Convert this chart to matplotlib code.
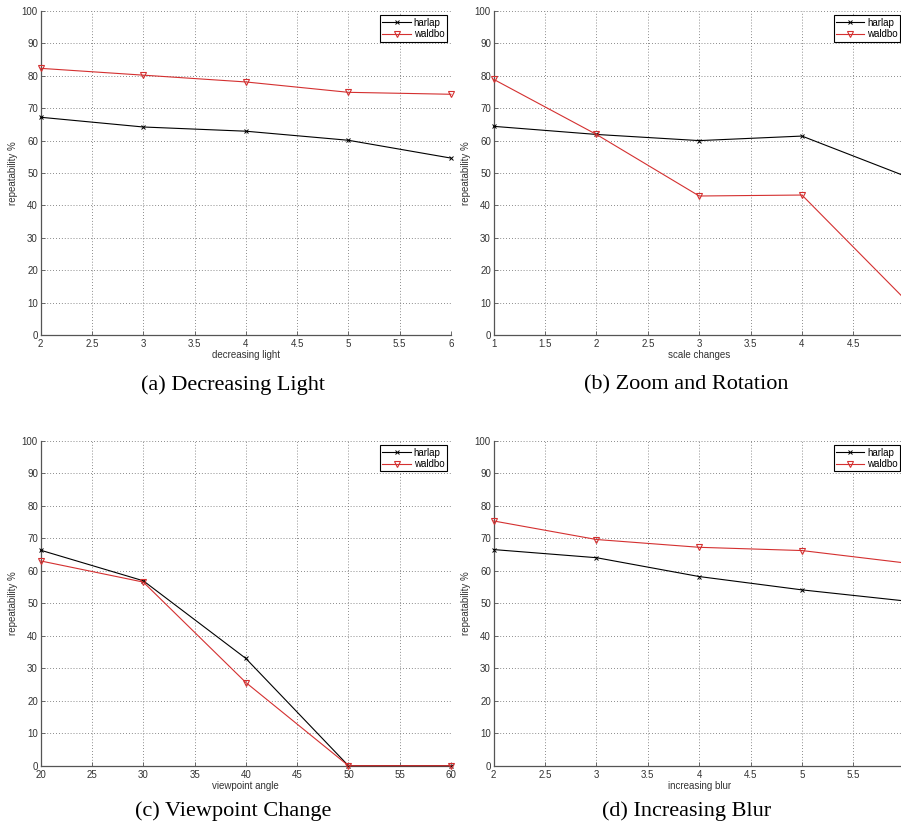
import matplotlib
matplotlib.use("Agg")
import matplotlib.pyplot as plt
import numpy as np

# ---- data ----
x_light = [2, 3, 4, 5, 6]
harlap_light = [67.2, 64.2, 62.9, 60.1, 54.6]
waldbo_light = [82.3, 80.2, 78.1, 74.9, 74.3]

x_scale = [1, 2, 3, 4, 5]
harlap_scale = [64.4, 61.9, 60.0, 61.4, 49.1]
waldbo_scale = [78.9, 61.9, 42.9, 43.2, 11.1]

x_view = [20, 30, 40, 50, 60]
harlap_view = [66.3, 56.9, 33.0, 0.0, 0.0]
waldbo_view = [63.0, 56.5, 25.6, 0.0, 0.0]

x_blur = [2, 3, 4, 5, 6]
harlap_blur = [66.5, 64.0, 58.2, 54.1, 50.7]
waldbo_blur = [75.3, 69.6, 67.2, 66.2, 62.4]

series_names = ["harlap", "waldbo"]
xlabels = ["decreasing light", "scale changes", "viewpoint angle", "increasing blur"]
ylabel = "repeatability %"
captions = ["(a) Decreasing Light", "(b) Zoom and Rotation",
            "(c) Viewpoint Change", "(d) Increasing Blur"]

W, H = 901, 831
fig = plt.figure(figsize=(W / 100, H / 100), dpi=100)

def fx(px):
    return px / W

def fy(py):
    return 1 - py / H

# axes boxes in pixel coordinates (left, top, right, bottom)
boxes = [
    (40.7, 11.0, 451.0, 335.0),
    (493.7, 11.0, 904.7, 335.0),
    (40.7, 440.7, 451.0, 765.7),
    (493.7, 440.7, 904.7, 765.7),
]

datasets = [
    (x_light, harlap_light, waldbo_light, np.arange(2, 6.01, 0.5), (2, 6)),
    (x_scale, harlap_scale, waldbo_scale, np.arange(1, 4.51, 0.5), (1, 5)),
    (x_view, harlap_view, waldbo_view, np.arange(20, 60.1, 5), (20, 60)),
    (x_blur, harlap_blur, waldbo_blur, np.arange(2, 5.51, 0.5), (2, 6)),
]

def fmt(v):
    return ("%g" % v)

tick_color = "#333333"
spine_color = "#555555"
red = "#d43030"
sans = ["Liberation Sans", "DejaVu Sans"]

for i, (box, ds) in enumerate(zip(boxes, datasets)):
    l, t, r, b = box
    ax = fig.add_axes([fx(l), fy(b), fx(r) - fx(l), fy(t) - fy(b)])
    xs, h, w, xt, xl = ds
    ax.plot(xs, h, color="black", lw=0.8, marker="x", ms=3.2, mew=0.7,
            label=series_names[0], clip_on=False, zorder=3)
    ax.plot(xs, w, color=red, lw=0.8, marker="v", ms=4.5, mew=0.8,
            mfc="none", mec=red, label=series_names[1], clip_on=False, zorder=3)
    ax.set_xlim(*xl)
    ax.set_ylim(0, 100)
    ax.set_xticks(xt)
    ax.set_xticklabels([fmt(v) for v in xt], fontsize=7, family=sans, color=tick_color)
    yt = np.arange(0, 101, 10)
    ax.set_yticks(yt)
    ax.set_yticklabels([fmt(v) for v in yt], fontsize=7, family=sans, color=tick_color)
    ax.tick_params(direction="in", length=3, width=0.6, color=spine_color)
    ax.tick_params(axis="x", pad=3.2)
    ax.tick_params(axis="y", pad=2)
    ax.grid(True, linestyle=(0, (1, 2.5)), color="#666666", linewidth=0.6)
    for s in ["top", "right"]:
        ax.spines[s].set_visible(False)
    for s in ["left", "bottom"]:
        ax.spines[s].set_color(spine_color)
        ax.spines[s].set_linewidth(0.9)
    ax.set_xlabel(xlabels[i], fontsize=7, family=sans, color=tick_color, labelpad=0.5)
    ax.set_ylabel(ylabel, fontsize=7, family=sans, color=tick_color, labelpad=3)
    leg = ax.legend(loc="upper right", prop={"family": sans, "size": 7},
                    frameon=True, fancybox=False, framealpha=1, edgecolor="black",
                    handlelength=2.9, handletextpad=0.3, labelspacing=0.15,
                    borderpad=0.25, borderaxespad=0.45)
    leg.get_frame().set_linewidth(0.8)
    leg.set_zorder(5)

cap_pos = [(233, 385), (686, 385), (233, 811.5), (687, 811.5)]
for c, (cx, cy) in zip(captions, cap_pos):
    fig.text(fx(cx), fy(cy), c, ha="center", va="center", fontsize=16,
             family=["Liberation Serif", "DejaVu Serif"])

fig.savefig("out.png", dpi=100)
